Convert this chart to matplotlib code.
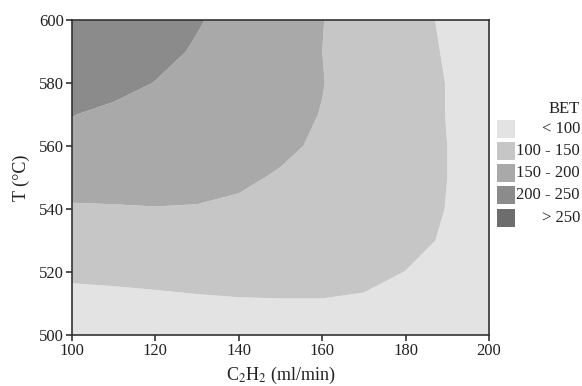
import numpy as np
import matplotlib
matplotlib.use("Agg")
import matplotlib.pyplot as plt
from matplotlib.patches import Rectangle

plt.rcParams['font.family'] = ['Liberation Serif', 'DejaVu Serif']
plt.rcParams['mathtext.fontset'] = 'stix'

# Data
flow = [100, 110, 120, 130, 140, 150, 160, 170, 180, 190, 200]     # C2H2 ml/min
temp = [500, 510, 520, 530, 540, 550, 560, 570, 580, 590, 600]     # T (°C)
bet = [
    [70, 73, 76, 79, 81, 82, 82, 81, 78, 74, 70],                 # 500
    [82, 85.3, 89.4, 93.6, 96.3, 97.3, 97.7, 95.7, 90, 84, 76],   # 510
    [110, 112, 114, 115, 115, 114, 112, 108, 99.5, 90, 80],       # 520
    [133, 134, 135, 134, 132, 130, 126, 120, 110, 96, 84],        # 530
    [143, 146.1, 148.6, 148.2, 145, 142, 136, 127, 114, 99, 86],  # 540
    [178, 172, 166, 160, 155, 147, 140, 130, 116, 100, 87],       # 550
    [190, 182, 175, 168, 162, 156, 145, 133, 117, 100, 87],       # 560
    [201, 192, 183, 175, 167, 159, 149, 134, 117, 99, 87],        # 570
    [222, 212, 199, 187, 175, 163, 151, 135, 117, 99, 87],        # 580
    [232, 222, 211, 196, 182, 168, 150, 132, 114, 97, 86],        # 590
    [240, 228, 216, 203, 186, 172, 151, 130, 112, 95, 85],        # 600
]
levels = [0, 100, 150, 200, 250, 1000]
level_labels = ['< 100', '100 - 150', '150 - 200', '200 - 250', '> 250']
colors = ['#e3e3e3', '#c6c6c6', '#a9a9a9', '#8b8b8b', '#6d6d6d']

W, H = 582, 386
fig = plt.figure(figsize=(W / 100, H / 100), dpi=100)
ax = fig.add_axes([72 / W, 1 - 335 / H, (489 - 72) / W, (335 - 20) / H])

X, Y = np.meshgrid(flow, temp)
ax.contourf(X, Y, np.array(bet), levels=levels, colors=colors, antialiased=True)

ax.set_xlim(100, 200)
ax.set_ylim(500, 600)
ax.set_xticks([100, 120, 140, 160, 180, 200])
ax.set_yticks([500, 520, 540, 560, 580, 600])
ax.tick_params(direction='out', length=4, width=1.1, labelsize=12, colors='#222222', pad=2)
ax.tick_params(top=False, right=False)
for s in ax.spines.values():
    s.set_linewidth(1.2)
    s.set_color('#333333')

ax.set_xlabel('C$_2$H$_2$ (ml/min)', fontsize=13, labelpad=4, color='#222222')
ax.set_ylabel('T (°C)', fontsize=13, labelpad=6, color='#222222')

# Legend drawn manually (right-aligned labels)
fig.text(580 / W, 1 - 109 / H, 'BET', ha='right', va='center', fontsize=12, color='#222222')
centers = [129, 151, 173, 195, 218]
for c, lab, yc in zip(colors, level_labels, centers):
    fig.add_artist(Rectangle((497 / W, 1 - (yc + 9) / H), 18 / W, 18 / H,
                             transform=fig.transFigure, facecolor=c, edgecolor='none'))
    fig.text(580 / W, 1 - yc / H, lab, ha='right', va='center', fontsize=12, color='#222222')

fig.savefig('out.png', dpi=100)
